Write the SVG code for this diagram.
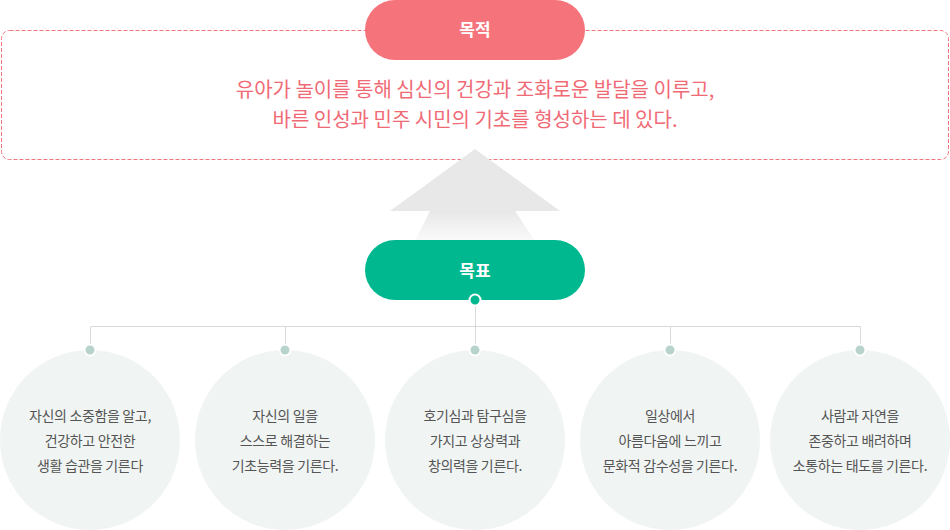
<svg xmlns="http://www.w3.org/2000/svg" width="950" height="530" viewBox="0 0 950 530">
<style>
.kr{font-family:"Noto Sans CJK KR","Noto Sans",sans-serif}
.pill{font-size:17px;font-weight:700;fill:#fff;text-anchor:middle}
.purpose{font-size:20px;fill:#f06a76;text-anchor:middle}
.goal{font-size:14px;fill:#555;text-anchor:middle;letter-spacing:-0.35px}
.circ{fill:#f0f4f3}
.dot{fill:#b8d3cc;stroke:#fff;stroke-width:2}
.ln{stroke:#d9d9d9;stroke-width:1;fill:none}
</style>
<defs>
<linearGradient id="shaft" x1="0" y1="0" x2="0" y2="1">
<stop offset="0" stop-color="#e8e8e8"/>
<stop offset="1" stop-color="#fafafa"/>
</linearGradient>
</defs>
<g id="purpose-box">
<rect x="1.5" y="30.5" width="947" height="129" rx="8" fill="none" stroke="#f2747c" stroke-width="1" stroke-dasharray="4,2"/>
<text class="kr purpose" x="475" y="97">유아가 놀이를 통해 심신의 건강과 조화로운 발달을 이루고,</text>
<text class="kr purpose" x="475" y="127">바른 인성과 민주 시민의 기초를 형성하는 데 있다.</text>
</g>
<g id="purpose-pill">
<rect x="365" y="0" width="220" height="60" rx="30" fill="#f5747c"/>
<text class="kr pill" x="475" y="36">목적</text>
</g>
<g id="arrow">
<polygon points="430,211 515,211 535,241 415,241" fill="url(#shaft)"/>
<polygon points="475,149 560,211 390,211" fill="#e8e8e8"/>
</g>
<g id="goal-pill">
<rect x="365" y="240" width="220" height="60" rx="30" fill="#00b890"/>
<text class="kr pill" x="475" y="277">목표</text>
</g>
<g id="connectors">
<path class="ln" d="M475.5,300 V326.5 M90.5,326.5 H860.5 M90.5,326.5 V350 M285.5,326.5 V350 M670.5,326.5 V350 M860.5,326.5 V350 M475.5,326.5 V350"/>
<circle cx="475" cy="300" r="5.5" fill="#00b890" stroke="#fff" stroke-width="2"/>
</g>
<g id="goal1">
<circle class="circ" cx="90" cy="440" r="90"/>
<circle class="dot" cx="90" cy="350" r="5.5"/>
<text class="kr goal" x="90" y="421">자신의 소중함을 알고,</text>
<text class="kr goal" x="90" y="446">건강하고 안전한</text>
<text class="kr goal" x="90" y="471">생활 습관을 기른다</text>
</g>
<g id="goal2">
<circle class="circ" cx="285" cy="440" r="90"/>
<circle class="dot" cx="285" cy="350" r="5.5"/>
<text class="kr goal" x="285" y="421">자신의 일을</text>
<text class="kr goal" x="285" y="446">스스로 해결하는</text>
<text class="kr goal" x="285" y="471">기초능력을 기른다.</text>
</g>
<g id="goal3">
<circle class="circ" cx="475" cy="440" r="90"/>
<circle class="dot" cx="475" cy="350" r="5.5"/>
<text class="kr goal" x="475" y="421">호기심과 탐구심을</text>
<text class="kr goal" x="475" y="446">가지고 상상력과</text>
<text class="kr goal" x="475" y="471">창의력을 기른다.</text>
</g>
<g id="goal4">
<circle class="circ" cx="670" cy="440" r="90"/>
<circle class="dot" cx="670" cy="350" r="5.5"/>
<text class="kr goal" x="670" y="421">일상에서</text>
<text class="kr goal" x="670" y="446">아름다움에 느끼고</text>
<text class="kr goal" x="670" y="471">문화적 감수성을 기른다.</text>
</g>
<g id="goal5">
<circle class="circ" cx="860" cy="440" r="90"/>
<circle class="dot" cx="860" cy="350" r="5.5"/>
<text class="kr goal" x="860" y="421">사람과 자연을</text>
<text class="kr goal" x="860" y="446">존중하고 배려하며</text>
<text class="kr goal" x="860" y="471">소통하는 태도를 기른다.</text>
</g>
</svg>
